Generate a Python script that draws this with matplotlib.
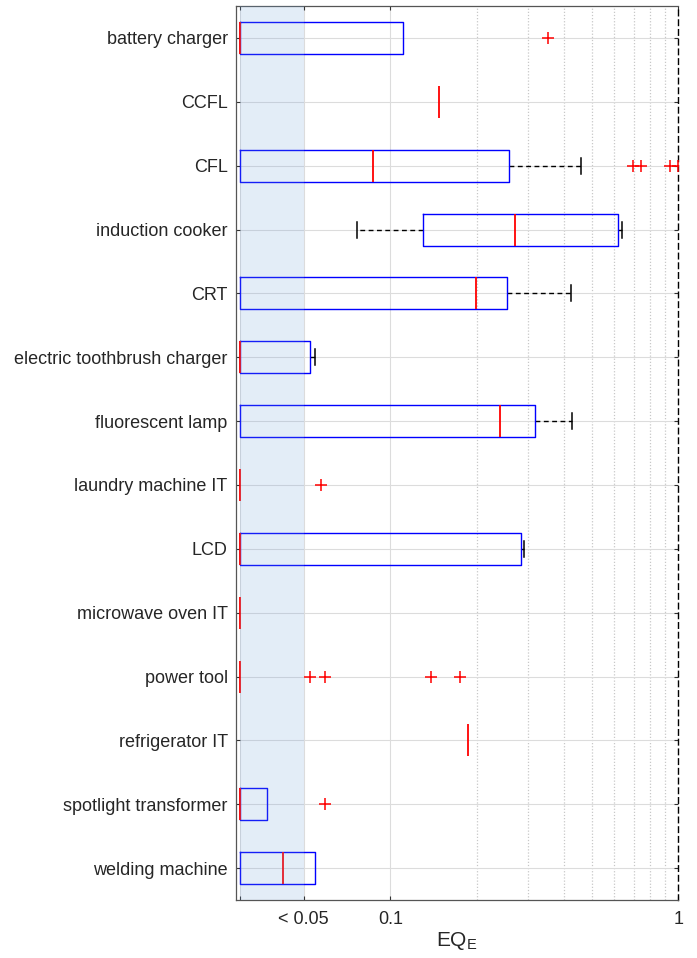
import numpy as np
import matplotlib
matplotlib.use('Agg')
import matplotlib.pyplot as plt
from matplotlib.ticker import FixedLocator, NullFormatter

plt.rcParams['font.family'] = ['Liberation Sans', 'DejaVu Sans']

# appliances, top to bottom
names = ['battery charger', 'CCFL', 'CFL', 'induction cooker', 'CRT',
         'electric toothbrush charger', 'fluorescent lamp', 'laundry machine IT',
         'LCD', 'microwave oven IT', 'power tool', 'refrigerator IT',
         'spotlight transformer', 'welding machine']

# box statistics (values < 0.05 are clamped to 0.03)
q1 = [0.03, 0.147, 0.03, 0.130, 0.03, 0.03, 0.03, 0.03, 0.03, 0.03, 0.03, 0.1866, 0.03, 0.03]
med = [0.03, 0.147, 0.0869, 0.271, 0.199, 0.03, 0.240, 0.03, 0.03, 0.03, 0.03, 0.1866, 0.03, 0.0423]
q3 = [0.1107, 0.147, 0.259, 0.616, 0.254, 0.0526, 0.317, 0.03, 0.2836, 0.03, 0.03, 0.1866, 0.0374, 0.0548]
whislo = [0.03, 0.147, 0.03, 0.0768, 0.03, 0.03, 0.03, 0.03, 0.03, 0.03, 0.03, 0.1866, 0.03, 0.03]
whishi = [0.1107, 0.147, 0.458, 0.636, 0.425, 0.0548, 0.426, 0.03, 0.290, 0.03, 0.03, 0.1866, 0.0374, 0.0548]
fliers = [[0.354], [], [0.698, 0.744, 0.936, 1.0], [], [], [], [], [0.0574],
          [], [], [0.0525, 0.0593, 0.1388, 0.1746], [], [0.0593], []]

stats = []
for i in range(len(names)):
    stats.append(dict(label=names[i], q1=q1[i], med=med[i], q3=q3[i],
                      whislo=whislo[i], whishi=whishi[i], fliers=fliers[i]))

fig = plt.figure(figsize=(6.97, 9.58), dpi=100)
ax = fig.add_axes([0.3386, 0.0605, 0.9732 - 0.3386, 0.9937 - 0.0605])

pos = np.arange(1, len(names) + 1)
bp = ax.bxp(stats, positions=pos, vert=False, widths=0.5, capwidths=0.25,
            boxprops=dict(color='#0000ff', linewidth=1.0, zorder=4),
            medianprops=dict(color='#ff0000', linewidth=1.3, zorder=5),
            whiskerprops=dict(color='black', linestyle=(0, (3.5, 2.5)), linewidth=1.0, zorder=3),
            capprops=dict(color='black', linewidth=1.1, zorder=2),
            flierprops=dict(marker='+', markeredgecolor='#ff0000', markersize=8,
                            markeredgewidth=1.1, linestyle='none', zorder=5))

# hide zero-length whiskers/caps and collapsed boxes (like matlab does)
for i in range(len(names)):
    if whislo[i] == q1[i]:
        bp['whiskers'][2 * i].set_visible(False)
        bp['caps'][2 * i].set_visible(False)
    if whishi[i] == q3[i]:
        bp['whiskers'][2 * i + 1].set_visible(False)
        bp['caps'][2 * i + 1].set_visible(False)
    if q1[i] == q3[i]:
        bp['boxes'][i].set_visible(False)

ax.set_xscale('log')
ax.set_xlim(0.0291, 1.0)
ax.set_ylim(14.5, 0.5)

# "< 0.05" region
ax.axvspan(0.03, 0.05, color='#6fa0d8', alpha=0.19, lw=0, zorder=6)

ax.xaxis.set_major_locator(FixedLocator([0.03, 0.05, 0.1, 1]))
ax.set_xticklabels(['', '< 0.05', '0.1', '1'])
ax.xaxis.set_minor_locator(FixedLocator([0.2, 0.3, 0.4, 0.5, 0.6, 0.7, 0.8, 0.9]))
ax.xaxis.set_minor_formatter(NullFormatter())
ax.set_yticks(pos)
ax.set_yticklabels(names)

ax.grid(True, which='major', color='#dcdcdc', linewidth=0.8, zorder=0)
ax.grid(True, which='minor', axis='x', color='#c8c8c8', linestyle=(0, (1, 1.5)), linewidth=0.9, zorder=0)
ax.set_axisbelow(True)

ax.tick_params(which='major', direction='in', length=3, width=0.8, color='#333333',
               top=True, right=True, labelsize=13, labelcolor='#262626', pad=6)
ax.tick_params(axis='x', which='major', pad=8)
ax.tick_params(which='minor', length=0)

for s in ['left', 'bottom', 'top']:
    ax.spines[s].set_color('#555555')
    ax.spines[s].set_linewidth(0.9)
ax.spines['right'].set_color('black')
ax.spines['right'].set_linestyle((0, (4, 3)))
ax.spines['right'].set_linewidth(1.0)

ax.set_xlabel('EQ$_\\mathregular{E}$', fontsize=15, color='#262626', labelpad=1)

fig.savefig('out.png', dpi=100)
